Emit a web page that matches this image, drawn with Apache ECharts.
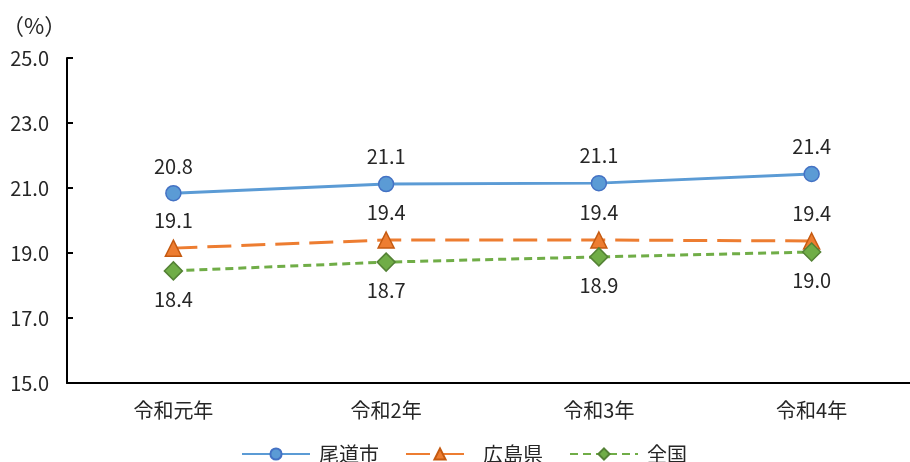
<!DOCTYPE html>
<html>
<head>
<meta charset="utf-8">
<script src="https://cdn.jsdelivr.net/npm/echarts@6/dist/echarts.min.js"></script>
<style>
  html, body { margin: 0; padding: 0; background: #fff; }
  #chart { width: 910px; height: 462px; }
</style>
</head>
<body>
<div id="chart"></div>
<script>
const categories = ['令和元年', '令和2年', '令和3年', '令和4年']
const onomichi = [20.84, 21.12, 21.15, 21.43]
const hiroshima = [19.15, 19.40, 19.40, 19.37]
const zenkoku = [18.45, 18.72, 18.88, 19.03]
const yMin = 15, yMax = 25, yStep = 2

const font = '"Noto Sans CJK JP", "Noto Sans", sans-serif'
const textColor = '#262626'
const fs = 20

const chart = echarts.init(document.getElementById('chart'))

function label(pos) {
    return {
        show: true,
        position: pos,
        distance: 9,
        color: textColor,
        fontSize: fs,
        fontFamily: font,
        formatter: p => p.value.toFixed(1)
    }
}

chart.setOption({
    animation: false,
    textStyle: { fontFamily: font },
    grid: { left: 67, width: 851, top: 58, height: 325, outerBoundsMode: 'none' },
    graphic: [{
        type: 'text',
        left: 2,
        top: 15,
        style: { text: '（%）', fontSize: 22, fill: textColor, fontFamily: font }
    }],
    legend: {
        top: 439,
        left: 236,
        itemWidth: 68,
        itemHeight: 14,
        itemGap: 26,
        textStyle: { fontSize: fs, color: textColor, fontFamily: font, padding: [0, 0, 0, 4] },
        data: ['尾道市', '広島県', '全国']
    },
    xAxis: {
        type: 'category',
        data: categories,
        axisLine: { lineStyle: { color: '#000', width: 2 } },
        axisTick: { inside: true, length: 6, lineStyle: { color: '#000', width: 2 } },
        axisLabel: { color: textColor, fontSize: fs, margin: 17, fontFamily: font }
    },
    yAxis: {
        type: 'value',
        min: yMin,
        max: yMax,
        interval: yStep,
        splitLine: { show: false },
        axisLine: { show: true, lineStyle: { color: '#000', width: 2 } },
        axisTick: { show: true, inside: true, length: 6, lineStyle: { color: '#000', width: 2 } },
        axisLabel: {
            color: textColor, fontSize: fs, margin: 18, fontFamily: font,
            formatter: v => v.toFixed(1)
        }
    },
    series: [
        {
            name: '尾道市',
            type: 'line',
            data: onomichi,
            symbol: 'circle',
            symbolSize: 15,
            lineStyle: { color: '#5B9BD5', width: 3 },
            itemStyle: { color: '#5B9BD5', borderColor: '#4472C4', borderWidth: 1.5 },
            label: label('top')
        },
        {
            name: '広島県',
            type: 'line',
            data: hiroshima,
            symbol: 'triangle',
            symbolSize: 16,
            lineStyle: { color: '#ED7D31', width: 3, type: [24, 10] },
            itemStyle: { color: '#ED7D31', borderColor: '#C55A11', borderWidth: 1.5 },
            label: label('top')
        },
        {
            name: '全国',
            type: 'line',
            data: zenkoku,
            symbol: 'diamond',
            symbolSize: 18,
            lineStyle: { color: '#70AD47', width: 3, type: [8, 5] },
            itemStyle: { color: '#70AD47', borderColor: '#548235', borderWidth: 1.5 },
            label: label('bottom')
        }
    ]
})
</script>
</body>
</html>
